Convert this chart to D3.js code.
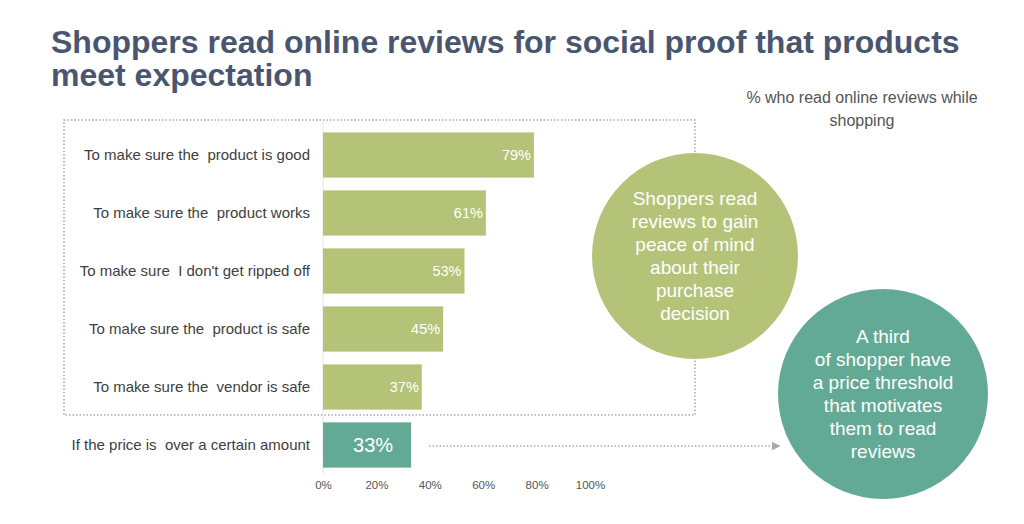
<!DOCTYPE html>
<html>
<head>
<meta charset="utf-8">
<script src="https://cdn.jsdelivr.net/npm/d3@7"></script>
<style>
  body { margin: 0; background: #fff; }
  svg { display: block; font-family: "Liberation Sans", Arial, Helvetica, sans-serif; }
</style>
</head>
<body>
<svg id="chart"></svg>
<script>
// data
const categories = [
  "To make sure the  product is good",
  "To make sure the  product works",
  "To make sure  I don't get ripped off",
  "To make sure the  product is safe",
  "To make sure the  vendor is safe",
  "If the price is  over a certain amount"
];
const values = [79, 61, 53, 45, 37, 33];
const tickValues = [0, 20, 40, 60, 80, 100];
const titleLines = ["Shoppers read online reviews for social proof that products", "meet expectation"];
const subtitleLines = ["% who read online reviews while", "shopping"];
const bubble1Lines = ["Shoppers read", "reviews to gain", "peace of mind", "about their", "purchase", "decision"];
const bubble2Lines = ["A third", "of shopper have", "a price threshold", "that motivates", "them to read", "reviews"];

const width = 1024, height = 524;
const green = "#b4c378", teal = "#63aa96";

const svg = d3.select("#chart").attr("width", width).attr("height", height);

// title
svg.append("text")
  .attr("fill", "#4a5670")
  .attr("font-size", 32)
  .attr("font-weight", "bold")
  .selectAll("tspan").data(titleLines).join("tspan")
  .attr("x", 51)
  .attr("y", (d, i) => 53 + i * 33)
  .text(d => d);

// subtitle
svg.append("text")
  .attr("fill", "#555")
  .attr("font-size", 16)
  .attr("text-anchor", "middle")
  .selectAll("tspan").data(subtitleLines).join("tspan")
  .attr("x", 862)
  .attr("y", (d, i) => 103 + i * 23)
  .text(d => d);

const x = d3.scaleLinear().domain([0, 100]).range([323, 590]);
const y = d3.scaleBand().domain(categories).range([126, 474]).paddingInner(0.22).paddingOuter(0.11);

// dotted frame around the first five bars
svg.append("rect")
  .attr("x", 64).attr("y", 120)
  .attr("width", 695 - 64).attr("height", 415 - 120)
  .attr("fill", "none")
  .attr("stroke", "#a8a8a8")
  .attr("stroke-width", 1.5)
  .attr("stroke-dasharray", "1.5,2");

// faint baseline
svg.append("line")
  .attr("x1", x(0)).attr("x2", x(0))
  .attr("y1", 121).attr("y2", 474)
  .attr("stroke", "#e6e6e6");

// bars
svg.selectAll(".bar").data(values).join("rect")
  .attr("class", "bar")
  .attr("x", x(0))
  .attr("y", (d, i) => y(categories[i]))
  .attr("width", d => x(d) - x(0))
  .attr("height", y.bandwidth())
  .attr("fill", (d, i) => i === 5 ? teal : green);

// category labels
svg.selectAll(".cat").data(categories).join("text")
  .attr("class", "cat")
  .attr("x", 310)
  .attr("y", d => y(d) + y.bandwidth() / 2)
  .attr("dy", "0.35em")
  .attr("text-anchor", "end")
  .attr("font-size", 15)
  .attr("fill", "#404040")
  .style("white-space", "pre")
  .text(d => d);

// value labels
svg.selectAll(".val").data(values).join("text")
  .attr("class", "val")
  .attr("x", (d, i) => i === 5 ? (x(0) + x(d)) / 2 + 6 : x(d) - 3)
  .attr("y", (d, i) => y(categories[i]) + y.bandwidth() / 2)
  .attr("dy", "0.35em")
  .attr("text-anchor", (d, i) => i === 5 ? "middle" : "end")
  .attr("font-size", (d, i) => i === 5 ? 20 : 14.5)
  .attr("fill", "#fff")
  .text(d => d + "%");

// x axis
const xAxis = svg.append("g")
  .attr("transform", "translate(0, 481)")
  .call(d3.axisBottom(x).tickValues(tickValues).tickFormat(d => d + "%").tickSize(0).tickPadding(0));
xAxis.select(".domain").remove();
xAxis.selectAll("text")
  .attr("font-family", "Liberation Sans, Arial, sans-serif")
  .attr("font-size", 11.5)
  .attr("fill", "#555");

// dotted arrow to the second bubble
svg.append("defs").append("marker")
  .attr("id", "arrow")
  .attr("viewBox", "0 0 10 10")
  .attr("refX", 5).attr("refY", 5)
  .attr("markerWidth", 6).attr("markerHeight", 6)
  .attr("orient", "auto")
  .append("path").attr("d", "M0,0 L10,5 L0,10 z").attr("fill", "#a8a8a8");

const arrowY = y(categories[5]) + y.bandwidth() / 2 + 1;
svg.append("line")
  .attr("x1", 429).attr("x2", 776)
  .attr("y1", arrowY).attr("y2", arrowY)
  .attr("stroke", "#a8a8a8")
  .attr("stroke-width", 1.5)
  .attr("stroke-dasharray", "1.5,2")
  .attr("marker-end", "url(#arrow)");

// bubbles
function bubble(cx, cy, r, fill, lines) {
  svg.append("circle").attr("cx", cx).attr("cy", cy).attr("r", r).attr("fill", fill);
  svg.append("text")
    .attr("fill", "#fff")
    .attr("font-size", 19)
    .attr("text-anchor", "middle")
    .selectAll("tspan").data(lines).join("tspan")
    .attr("x", cx)
    .attr("y", (d, i) => cy - 2.5 * 23 + i * 23)
    .attr("dy", "0.35em")
    .text(d => d);
}
bubble(695, 256, 103, green, bubble1Lines);
bubble(883, 394, 105, teal, bubble2Lines);
</script>
</body>
</html>
